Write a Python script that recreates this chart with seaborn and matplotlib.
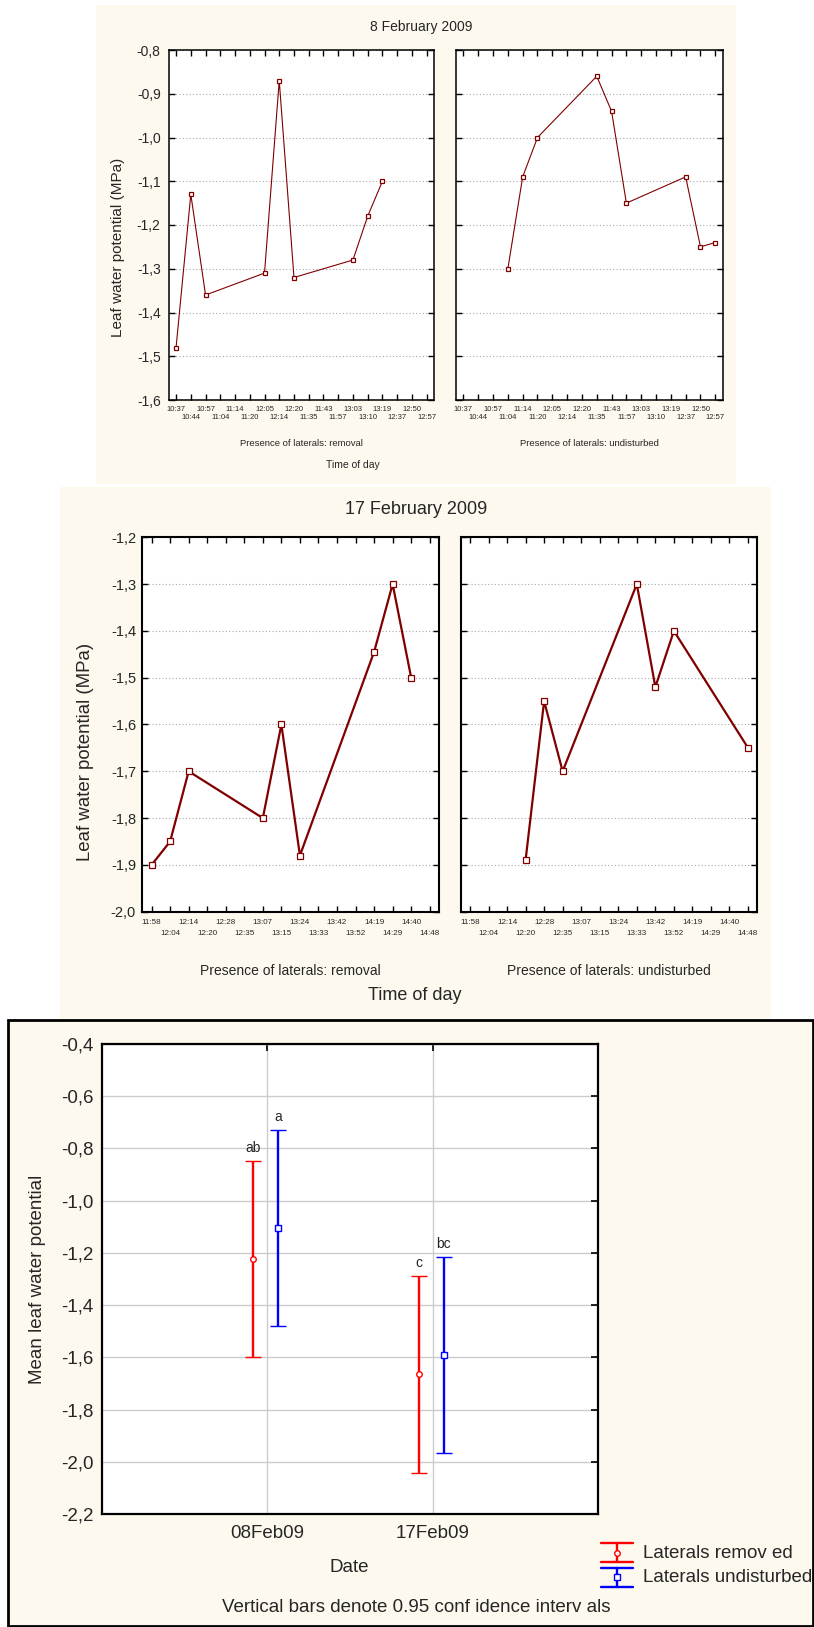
import numpy as np
import pandas as pd
import matplotlib
matplotlib.use("Agg")
import matplotlib.pyplot as plt
import seaborn as sns
from matplotlib.patches import Rectangle
from matplotlib.lines import Line2D
from matplotlib.ticker import FuncFormatter, FixedLocator, FixedFormatter

# ---------------- data ----------------
times_feb8 = ["10:37", "10:44", "10:57", "11:04", "11:14", "11:20", "12:05", "12:14", "12:20",
              "11:35", "11:43", "11:57", "13:03", "13:10", "13:19", "12:37", "12:50", "12:57"]
feb8_removal_times = ["10:37", "10:44", "10:57", "12:05", "12:14", "12:20", "13:03", "13:10", "13:19"]
feb8_removal_lwp = [-1.48, -1.13, -1.36, -1.31, -0.87, -1.32, -1.28, -1.18, -1.10]
feb8_undist_times = ["11:04", "11:14", "11:20", "11:35", "11:43", "11:57", "12:37", "12:50", "12:57"]
feb8_undist_lwp = [-1.30, -1.09, -1.00, -0.86, -0.94, -1.15, -1.09, -1.25, -1.24]

times_feb17 = ["11:58", "12:04", "12:14", "12:20", "12:28", "12:35", "13:07", "13:15", "13:24",
               "13:33", "13:42", "13:52", "14:19", "14:29", "14:40", "14:48"]
feb17_removal_times = ["11:58", "12:04", "12:14", "13:07", "13:15", "13:24", "14:19", "14:29", "14:40"]
feb17_removal_lwp = [-1.90, -1.85, -1.70, -1.80, -1.60, -1.88, -1.445, -1.30, -1.50]
feb17_undist_times = ["12:20", "12:28", "12:35", "13:33", "13:42", "13:52", "14:48"]
feb17_undist_lwp = [-1.89, -1.55, -1.70, -1.30, -1.52, -1.40, -1.65]

dates = ["08Feb09", "17Feb09"]
mean_removed = [-1.224, -1.665]
ci_removed = [0.3765, 0.3765]
mean_undist = [-1.104, -1.591]
ci_undist = [0.3765, 0.3765]
letters_removed = ["ab", "c"]
letters_undist = ["a", "bc"]

# ---------------- style ----------------
sns.set_theme(style="white")
plt.rcParams['font.family'] = ['Liberation Sans', 'DejaVu Sans']

W, H = 814, 1627
fig = plt.figure(figsize=(W / 100, H / 100), dpi=100)
fig.patch.set_facecolor('white')

CREAM = '#FDF9EE'
DARKRED = '#800000'


def ax_at(l, t, r, b):
    return fig.add_axes([l / W, 1 - b / H, (r - l) / W, (b - t) / H])


def rect(l, t, r, b, **kw):
    fig.patches.append(Rectangle((l / W, 1 - b / H), (r - l) / W, (b - t) / H,
                                 transform=fig.transFigure, zorder=-10, **kw))


def ftext(x, y, s, **kw):
    fig.text(x / W, 1 - y / H, s, **kw)


comma = FuncFormatter(lambda v, p: f"{v:.1f}".replace('.', ','))

# backgrounds
rect(96, 5, 736, 484, facecolor=CREAM, edgecolor='none')
rect(60, 487, 771, 1019, facecolor=CREAM, edgecolor='none')
rect(8, 1020, 813, 1626, facecolor=CREAM, edgecolor='black', linewidth=2)


def time_panel(ax, cats, tlist, vals, ylim, lw, ms, xfs, yfs, spw, show_y, pad_x, row_gap, pad_y):
    df = pd.DataFrame({"pos": [cats.index(t) for t in tlist], "lwp": vals})
    sns.lineplot(data=df, x="pos", y="lwp", ax=ax, color=DARKRED, linewidth=lw,
                 marker='s', markersize=ms, markerfacecolor='white',
                 markeredgecolor=DARKRED, markeredgewidth=0.9)
    ax.set_facecolor('white')
    ax.set_xlim(-0.5, len(cats) - 0.5)
    ax.set_ylim(*ylim)
    ax.set_yticks(np.round(np.arange(ylim[0], ylim[1] + 0.001, 0.1), 2))
    ax.yaxis.set_major_formatter(comma)
    even = list(range(0, len(cats), 2))
    odd = list(range(1, len(cats), 2))
    ax.xaxis.set_major_locator(FixedLocator(even))
    ax.xaxis.set_major_formatter(FixedFormatter([cats[i] for i in even]))
    ax.xaxis.set_minor_locator(FixedLocator(odd))
    ax.xaxis.set_minor_formatter(FixedFormatter([cats[i] for i in odd]))
    ax.tick_params(axis='both', which='both', direction='in', length=4, width=1, color='black',
                   top=True, right=True, bottom=True, left=True)
    ax.tick_params(axis='x', which='major', pad=pad_x, labelsize=xfs)
    ax.tick_params(axis='x', which='minor', pad=pad_x + row_gap, labelsize=xfs)
    ax.tick_params(axis='y', labelsize=yfs, pad=pad_y, labelleft=show_y)
    ax.yaxis.grid(True, linestyle=(0, (1, 2)), color='#A8A8A8', linewidth=0.8)
    ax.xaxis.grid(False, which='both')
    for s in ax.spines.values():
        s.set_color('black')
        s.set_linewidth(spw)
        s.set_visible(True)
    ax.set_xlabel('')
    ax.set_ylabel('')


# ---------- top figure: 8 February 2009 ----------
a1 = ax_at(168.7, 50, 434, 400)
a2 = ax_at(456, 50, 722.7, 400)
time_panel(a1, times_feb8, feb8_removal_times, feb8_removal_lwp, (-1.6, -0.8), 0.8, 3.2, 5.5, 10, 1.1, True, 4.0, 6.2, 5.8)
time_panel(a2, times_feb8, feb8_undist_times, feb8_undist_lwp, (-1.6, -0.8), 0.8, 3.2, 5.5, 10, 1.1, False, 4.0, 6.2, 5.8)
ftext(421, 27, "8 February 2009", fontsize=10, ha='center', va='center')
ftext(118, 247, "Leaf water potential (MPa)", fontsize=11, rotation=90, ha='center', va='center')
ftext(301, 443, "Presence of laterals: removal", fontsize=6.8, ha='center', va='center')
ftext(589, 443, "Presence of laterals: undisturbed", fontsize=6.8, ha='center', va='center')
ftext(353, 465, "Time of day", fontsize=7.5, ha='center', va='center')

# ---------- middle figure: 17 February 2009 ----------
b1 = ax_at(142.3, 537.3, 439, 911.7)
b2 = ax_at(460.7, 537.3, 757.3, 911.7)
time_panel(b1, times_feb17, feb17_removal_times, feb17_removal_lwp, (-2.0, -1.2), 1.6, 4.3, 5.8, 10.5, 1.5, True, 5.5, 7.4, 4.5)
time_panel(b2, times_feb17, feb17_undist_times, feb17_undist_lwp, (-2.0, -1.2), 1.6, 4.3, 5.8, 10.5, 1.5, False, 5.5, 7.4, 4.5)
ftext(416, 510, "17 February 2009", fontsize=13, ha='center', va='center')
ftext(85, 752, "Leaf water potential (MPa)", fontsize=13.4, rotation=90, ha='center', va='center')
ftext(290, 971, "Presence of laterals: removal", fontsize=10, ha='center', va='center')
ftext(609, 971, "Presence of laterals: undisturbed", fontsize=10, ha='center', va='center')
ftext(415, 995, "Time of day", fontsize=13, ha='center', va='center')

# ---------- bottom figure: means with CIs ----------
c = ax_at(101.5, 1044, 598, 1514)
c.set_facecolor('white')
xpos = np.arange(len(dates)) + 1
off_r, off_u = -0.083, 0.069
c.errorbar(xpos + off_r, mean_removed, yerr=ci_removed, fmt='o', color='#FF0000',
           ecolor='#FF0000', elinewidth=1.7, capsize=6, capthick=1.7, ms=4,
           mfc='white', mec='#FF0000', mew=1, zorder=5)
c.errorbar(xpos + off_u, mean_undist, yerr=ci_undist, fmt='s', color='#0000FF',
           ecolor='#0000FF', elinewidth=1.7, capsize=6, capthick=1.7, ms=4,
           mfc='white', mec='#0000FF', mew=1, zorder=5)
for i in range(len(dates)):
    c.annotate(letters_removed[i], (xpos[i] + off_r, mean_removed[i] + ci_removed[i]),
               xytext=(0, 9), textcoords='offset points', ha='center', va='center', fontsize=10)
    c.annotate(letters_undist[i], (xpos[i] + off_u, mean_undist[i] + ci_undist[i]),
               xytext=(0, 9), textcoords='offset points', ha='center', va='center', fontsize=10)
c.set_xlim(0, 3)
c.set_ylim(-2.2, -0.4)
c.set_yticks(np.round(np.arange(-2.2, -0.399, 0.2), 2))
c.yaxis.set_major_formatter(comma)
c.set_xticks(xpos)
c.set_xticklabels(dates)
c.tick_params(axis='both', direction='in', length=5, width=1.2, color='black',
              top=True, right=True, labelsize=13.5)
c.tick_params(axis='y', pad=5.8)
c.tick_params(axis='x', pad=8)
c.grid(True, color='#CCCCCC', linewidth=1, linestyle='-')
for s in c.spines.values():
    s.set_color('black')
    s.set_linewidth(1.6)
    s.set_visible(True)
ftext(38, 1279, "Mean leaf water potential", fontsize=13.5, rotation=90, ha='center', va='center')
ftext(349.5, 1568, "Date", fontsize=13.5, ha='center', va='center')
ftext(416, 1608, "Vertical bars denote 0.95 conf idence interv als", fontsize=13.5, ha='center', va='center')

# legend glyphs drawn in a pixel-space overlay
ov = fig.add_axes([0, 0, 1, 1], facecolor='none')
ov.set_xlim(0, W)
ov.set_ylim(H, 0)
ov.axis('off')
for (ytop, ybot, ymid, col, mk) in [(1543, 1562, 1552.7, '#FF0000', 'o'), (1568, 1587, 1577, '#0000FF', 's')]:
    ov.add_line(Line2D([600.7, 633.3], [ytop, ytop], color=col, lw=1.7))
    ov.add_line(Line2D([600.7, 633.3], [ybot, ybot], color=col, lw=1.7))
    ov.add_line(Line2D([617, 617], [ytop, ybot], color=col, lw=1.7))
    ov.add_line(Line2D([617], [ymid], marker=mk, ms=4, mfc='white', mec=col, mew=1, lw=0))
ftext(643, 1553, "Laterals remov ed", fontsize=13.5, ha='left', va='center')
ftext(643, 1577, "Laterals undisturbed", fontsize=13.5, ha='left', va='center')

fig.savefig("out.png", dpi=100, facecolor='white')
